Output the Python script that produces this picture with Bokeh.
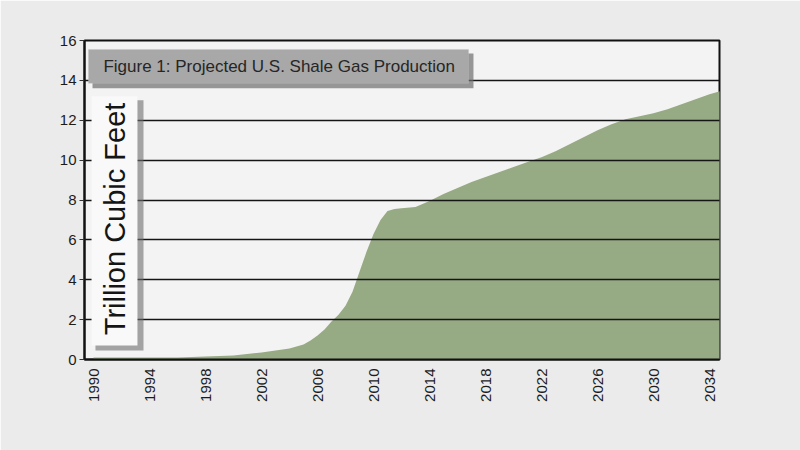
import math
from bokeh.plotting import figure
from bokeh.models import Range1d, FixedTicker, BoxAnnotation, Label
from bokeh.embed import file_html
from bokeh.resources import INLINE

# Data, trillion cubic feet
years = [1990, 1992, 1994, 1996, 1998, 2000, 2002, 2003, 2004, 2005, 2005.5, 2006,
         2006.5, 2007, 2007.5, 2008, 2008.5, 2009, 2009.5, 2010, 2010.5, 2011,
         2011.5, 2012, 2013, 2014, 2015, 2016, 2017, 2018, 2019,
         2020, 2021, 2022, 2023, 2024, 2025, 2026, 2027, 2028, 2029, 2030, 2031,
         2032, 2033, 2034, 2035]
production = [0.1, 0.1, 0.1, 0.1, 0.15, 0.2, 0.35, 0.45, 0.55, 0.75, 0.95, 1.2,
              1.5, 1.9, 2.25, 2.7, 3.4, 4.4, 5.4, 6.3, 7.0, 7.45,
              7.55, 7.58, 7.65, 7.95, 8.3, 8.6, 8.9, 9.15, 9.4,
              9.65, 9.9, 10.15, 10.45, 10.8, 11.15, 11.5, 11.8, 12.05, 12.2, 12.35, 12.55,
              12.8, 13.05, 13.3, 13.5]
x_ticks = list(range(1990, 2035, 4))
y_ticks = list(range(0, 17, 2))
title_text = "Figure 1: Projected U.S. Shale Gas Production"
ylabel_text = "Trillion Cubic Feet"

FONT = "Liberation Sans"

p = figure(width=800, height=450, output_backend="svg", toolbar_location=None,
           x_range=Range1d(1989.357, 2034.714), y_range=Range1d(0, 16),
           min_border_left=84, min_border_right=81, min_border_top=40, min_border_bottom=91)
p.border_fill_color = "#ebebeb"
p.background_fill_color = "#f3f3f3"
p.outline_line_color = "#111111"
p.outline_line_width = 2

p.varea(x=years, y1=[0] * len(years), y2=production, fill_color="#96aa84", fill_alpha=1)

# grid
p.xgrid.visible = False
p.ygrid.ticker = FixedTicker(ticks=y_ticks)
p.ygrid.grid_line_color = "#151515"
p.ygrid.grid_line_width = 1.6
p.ygrid.level = "guide"

# axes
p.xaxis.ticker = FixedTicker(ticks=x_ticks)
p.yaxis.ticker = FixedTicker(ticks=y_ticks)
p.xaxis.major_label_orientation = math.pi / 2
for ax in (p.xaxis, p.yaxis):
    ax.major_label_text_font = FONT
    ax.major_label_text_color = "#1c1c1c"
    ax.minor_tick_line_color = None
    ax.axis_line_color = "#111111"
    ax.axis_line_width = 2
p.xaxis.major_label_text_font_size = "15px"
p.yaxis.major_label_text_font_size = "15px"
p.xaxis.major_tick_line_color = None
p.xaxis.major_tick_out = 0
p.xaxis.major_tick_in = 0
p.xaxis.major_label_standoff = 9
p.yaxis.major_tick_out = 5
p.yaxis.major_tick_in = 0
p.yaxis.major_tick_line_color = "#333333"
p.yaxis.major_label_standoff = 3

# title box with shadow
p.add_layout(BoxAnnotation(left=1989.93, right=2017.14, bottom=13.6, top=15.35,
                           fill_color="#6e6e6e", fill_alpha=0.7, line_color=None))
p.add_layout(BoxAnnotation(left=1989.64, right=2016.79, bottom=13.85, top=15.55,
                           fill_color="#a8a8a8", fill_alpha=1, line_color="#c4c4c4", line_width=1))
# y label box with shadow
p.add_layout(BoxAnnotation(left=1990.14, right=1993.57, bottom=0.45, top=13.0,
                           fill_color="#6e6e6e", fill_alpha=0.6, line_color=None))
p.add_layout(BoxAnnotation(left=1989.86, right=1993.14, bottom=0.7, top=13.2,
                           fill_color="#f9f9f9", fill_alpha=1, line_color=None))

p.add_layout(Label(x=1990.71, y=14.72, text=title_text, text_font=FONT,
                   text_font_size="17px", text_color="#262626",
                   text_baseline="middle", text_align="left", level="overlay"))
p.add_layout(Label(x=1991.5, y=7.05, text=ylabel_text, text_font=FONT,
                   text_font_size="29px", text_color="#151515", angle=math.pi / 2,
                   text_baseline="middle", text_align="center", level="overlay"))

open("out.html", "w").write(file_html(p, INLINE))
